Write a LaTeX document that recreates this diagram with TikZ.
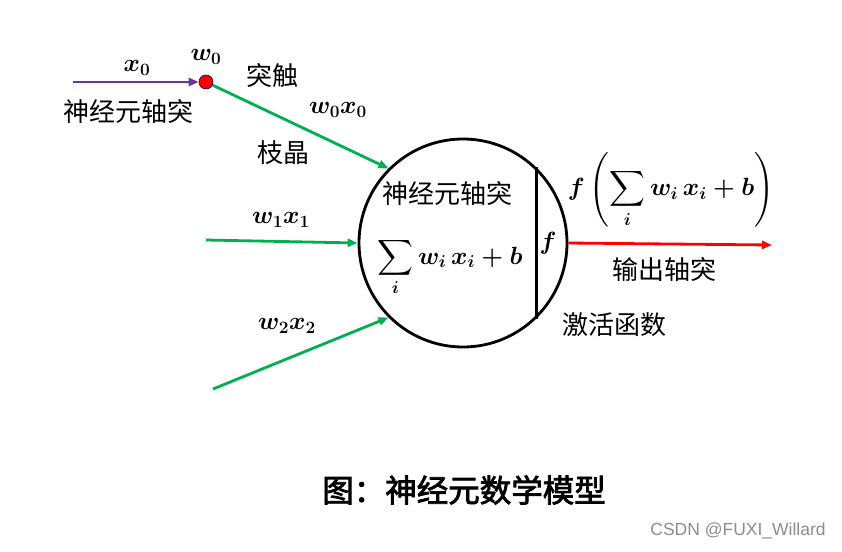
\documentclass[tikz,border=0pt]{standalone}
\usepackage{fontspec}
\usepackage{amsmath}
\newfontfamily\cjk{Noto Sans CJK SC}
\newfontfamily\cjkbold[FakeBold=2.5]{Noto Sans CJK SC}
\newfontfamily\wmfont{Liberation Sans}
\usetikzlibrary{arrows.meta}
\definecolor{synred}{RGB}{255,0,0}
\definecolor{axpurple}{RGB}{112,48,160}
\definecolor{dgreen}{RGB}{0,176,80}
\tikzset{
  lbl/.style={inner sep=0pt, font=\cjk\fontsize{26}{30}\selectfont},
  mth/.style={inner sep=0pt, font=\fontsize{26}{30}\selectfont\boldmath},
  mthsum/.style={inner sep=0pt, font=\fontsize{25}{30}\selectfont\boldmath},
  tip/.style={-{Triangle[length=10pt,width=8pt]}},
  inarrow/.style={tip, draw=dgreen, line width=2.8pt},
}
\begin{document}
\begin{tikzpicture}[x=1pt,y=-1pt]
\useasboundingbox (0,0) rectangle (842,551);
% neuron body
\node[circle, draw=black, line width=2.8pt, minimum size=208pt, inner sep=0pt] (neuron) at (463,243) {};
\draw[line width=2.8pt] (neuron.46.7) -- (neuron.-46.7);
% synapse
\node[circle, fill=synred, draw=blue!40!black, line width=0.6pt, minimum size=14pt, inner sep=0pt] (syn) at (206,82) {};
\coordinate (axstart) at (73,82);
\draw[tip, draw=axpurple, fill=axpurple, line width=2.8pt] (axstart) -- (syn);
\draw[inarrow] (syn) -- (neuron.135);
\coordinate (in1) at (206,240);
\coordinate (in2) at (213,389);
\draw[inarrow] (in1) -- (neuron.180);
\draw[inarrow] (in2) -- (neuron.225);
% output
\coordinate (outend) at (772,245);
\draw[tip, draw=synred, line width=2.8pt] (neuron.east) -- (outend);
% labels
\node[mth] (x0) at (137,68) {$x_0$};
\node[mth] (w0) at (206,57) {$w_0$};
\node[lbl] (tuchu) at (272,76) {突触};
\node[lbl] (axonl) at (128,112) {神经元轴突};
\node[mth] (w0x0) at (338,110) {$w_0x_0$};
\node[lbl] (zhijing) at (283,153) {枝晶};
\node[mth] (w1x1) at (281,220) {$w_1x_1$};
\node[mth] (w2x2) at (287,326) {$w_2x_2$};
\node[lbl] (axonin) at (447,194) {神经元轴突};
\node[mthsum, anchor=base] (sum) at (450,264) {\smash[t]{$\displaystyle\sum_i w_i\,x_i+b$}};
\node[mth] (f) at (548,243) {$f$};
\node[mthsum] (fout) at (671,190) {$\displaystyle f\left(\sum_i w_i\,x_i+b\right)$};
\node[lbl] (outax) at (664,270) {输出轴突};
\node[lbl] (act) at (614,325) {激活函数};
\node[inner sep=0pt, font=\cjkbold\fontsize{31.5}{34}\selectfont] (title) at (464,490) {图：神经元数学模型};
\node[inner sep=0pt, text=black!45, font=\wmfont\fontsize{17.5}{20}\selectfont] (wm) at (738,531) {CSDN @FUXI\_Willard};
\end{tikzpicture}
\end{document}
